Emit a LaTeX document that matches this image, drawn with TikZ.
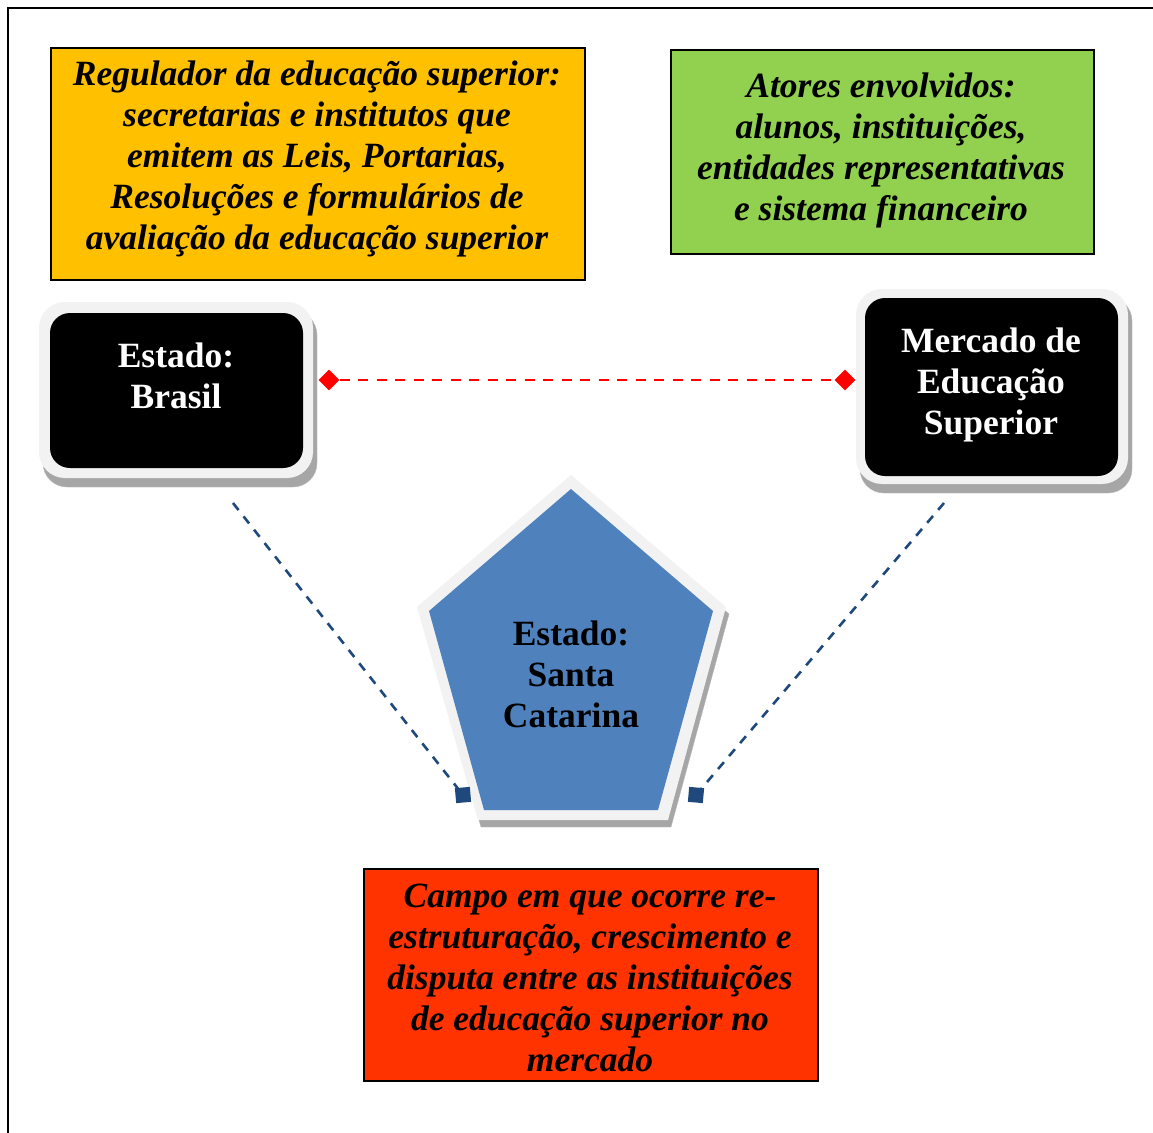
\documentclass[tikz,border=0pt]{standalone}
\usepackage{fontspec}
\setmainfont{Liberation Serif}
\usetikzlibrary{patterns,shapes.geometric}
\definecolor{orangeC}{HTML}{FFC000}
\definecolor{greenC}{HTML}{92D050}
\definecolor{redC}{HTML}{FF3300}
\definecolor{blueC}{HTML}{4F81BD}
\definecolor{dblue}{HTML}{1F497D}
\definecolor{lgray}{HTML}{F2F2F2}
\definecolor{shgray}{HTML}{A6A6A6}
\begin{document}
\begin{tikzpicture}[x=1pt,y=-1pt,
  itxt/.style={font=\fontsize{35.5}{41}\selectfont\bfseries\itshape, align=center, inner sep=0pt, text=black},
  btxt/.style={font=\fontsize{35.5}{41}\selectfont\bfseries, align=center, inner sep=0pt},
  boxC/.style={draw=black, line width=1.8pt, inner sep=0pt, anchor=north west},
  shadeC/.style={draw=shgray!80, fill=shgray},
  dashR/.style={draw=red, line width=2.6pt, dash pattern=on 10pt off 8.5pt},
  dashB/.style={draw=dblue, line width=2.6pt, dash pattern=on 9pt off 8pt},
  dmark/.style={diamond, fill=red, inner sep=0pt, minimum width=21pt, minimum height=21pt},
  smark/.style={rectangle, fill=dblue, inner sep=0pt, minimum size=15pt}
]
\useasboundingbox (0,0) rectangle (1153,1132);
\fill[white] (0,0) rectangle (1153,1132);
% frame
\draw[line width=2.5pt] (8,1140) -- (8,8) -- (1160,8);

% top boxes
\node[boxC, fill=orangeC, minimum width=534pt, minimum height=232pt] (regbox) at (50,47) {};
\node[itxt] (regtxt) at (317,158.5) {Regulador da educação superior:\\secretarias e institutos que\\emitem as Leis, Portarias,\\Resoluções e formulários de\\avaliação da educação superior};

\node[boxC, fill=greenC, minimum width=423pt, minimum height=204pt] (atbox) at (670,49) {};
\node[itxt] (attxt) at (881,150) {Atores envolvidos:\\alunos, instituições,\\entidades representativas\\e sistema financeiro};

% left black node
\draw[shadeC, rounded corners=24pt] (43,311) rectangle (317,487);
\fill[lgray, rounded corners=26pt] (39,302) rectangle (313,478);
\fill[black, rounded corners=20pt] (50,313) rectangle (303,468);
\node[btxt, text=white] (brasil) at (176,376) {Estado:\\Brasil};

% right black node
\draw[shadeC, rounded corners=24pt] (860,297) rectangle (1132,493);
\fill[lgray, rounded corners=26pt] (856,289) rectangle (1128,484);
\fill[black, rounded corners=20pt] (865,298) rectangle (1118,476);
\node[btxt, text=white] (mercado) at (991,384.5) {Mercado de\\Educação\\Superior};

% pentagon
\draw[shadeC] (574,482) -- (729,614) -- (671,827) -- (481,827) -- (420,614) -- cycle;
\fill[lgray] (571,475) -- (726,607) -- (668,820) -- (478,820) -- (417,607) -- cycle;
\fill[blueC] (571,489) -- (713,611) -- (658,810) -- (484,810) -- (429,611) -- cycle;
\node[btxt, text=black] (sc) at (571,674) {Estado:\\Santa\\Catarina};

% red dashed connector
\node[dmark] (dl) at (329,380) {};
\node[dmark] (dr) at (845,380) {};
\draw[dashR] (dl.east) -- (dr.west);

% blue dashed connectors
\coordinate (bl) at (233,503);
\coordinate (br) at (944,503);
\node[smark, rotate=5] (sl) at (463,795) {};
\node[smark, rotate=-5] (sr) at (696,795) {};
\draw[dashB] (bl) -- (sl.center);
\draw[dashB] (br) -- (sr.center);

% bottom box
\node[boxC, fill=redC, minimum width=454pt, minimum height=212pt] (campbox) at (363,868) {};
\node[itxt] (camptxt) at (590,978) {Campo em que ocorre re-\\estruturação, crescimento e\\disputa entre as instituições\\de educação superior no\\mercado};
\end{tikzpicture}
\end{document}
